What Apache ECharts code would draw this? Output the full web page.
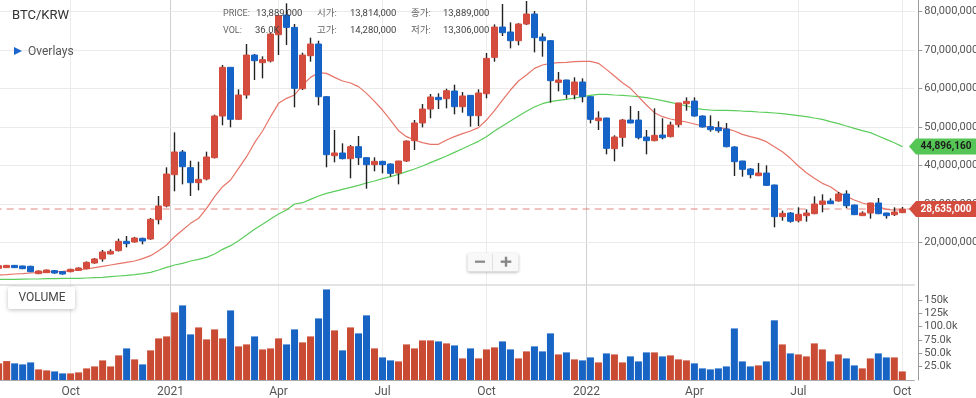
<!DOCTYPE html>
<html>
<head>
<meta charset="utf-8">
<script src="https://cdn.jsdelivr.net/npm/echarts@6/dist/echarts.min.js"></script>
<style>
html, body { margin: 0; padding: 0; background: #fff; }
#chart { width: 976px; height: 398px; }
</style>
</head>
<body>
<div id="chart"></div>
<script>
// weekly BTC/KRW, prices in million KRW, volume in thousands
var firstWeek = '2020-08-03';
var monthNames = ['Jan','Feb','Mar','Apr','May','Jun','Jul','Aug','Sep','Oct','Nov','Dec'];

var open = [13.22,13.39,13.99,13.82,13.74,11.83,12.09,12.61,12.35,12.35,12.70,13.13,14.60,15.65,16.95,17.81,20.24,20.07,21.02,20.85,
  25.88,29.43,37.59,43.49,39.41,35.51,36.46,42.01,52.85,65.52,51.99,58.32,68.72,66.73,67.16,74.01,79.13,75.92,59.96,68.55,
  71.59,57.88,42.53,43.23,41.75,44.87,42.01,40.19,41.06,40.36,38.02,41.14,46.44,51.04,54.67,57.71,57.36,59.36,55.28,58.23,
  52.94,58.66,68.12,76.01,74.71,72.45,76.79,79.39,73.41,72.45,61.61,62.22,58.40,61.70,57.88,51.64,52.33,44.35,47.30,51.81,
  51.81,47.39,46.44,47.91,47.48,50.60,56.06,56.75,52.85,50.08,49.82,49.47,44.79,41.14,39.06,37.33,38.02,34.90,26.66,27.61,
  25.62,26.92,27.44,29.87,30.74,30.74,32.56,29.70,26.92,27.61,30.22,27.61,27.18,27.70];
var close = [13.91,13.99,13.39,13.13,12.35,12.52,12.78,12.00,11.74,12.96,13.30,14.78,15.65,17.47,17.64,20.24,19.63,21.11,20.33,25.97,
  29.43,37.76,43.49,39.67,35.51,36.37,42.19,52.85,65.52,51.99,58.32,68.72,67.25,67.51,74.19,78.96,75.92,60.05,68.72,71.59,
  57.88,42.79,43.23,41.75,44.87,42.01,40.19,41.06,40.19,37.93,41.14,46.35,51.04,54.67,57.80,57.10,59.44,55.28,58.06,52.94,
  58.84,67.86,76.01,74.54,72.45,76.79,79.39,73.24,72.45,62.05,62.22,58.49,61.70,57.88,51.99,52.33,44.44,47.39,51.81,51.04,
  47.22,46.44,47.82,47.22,50.51,56.24,56.67,52.85,49.99,49.30,49.04,44.87,40.97,38.98,37.59,38.02,34.81,26.66,27.53,25.45,
  27.27,27.61,29.96,30.74,30.04,32.56,29.52,27.18,27.61,30.22,27.44,26.92,27.87,28.635];
var low = [13.10,13.30,13.30,13.00,12.20,11.70,12.00,11.80,11.60,12.20,12.60,13.00,14.40,14.95,16.80,17.60,18.68,19.90,19.46,20.60,
  24.67,29.09,33.25,35.07,32.04,33.51,36.11,41.80,50.43,49.90,51.80,57.36,62.22,62.65,66.80,68.72,71.32,55.11,59.62,66.99,
  55.63,39.50,40.80,41.58,36.63,40.10,33.94,38.45,37.93,37.07,35.07,40.90,44.01,49.90,52.25,54.67,54.85,53.28,53.72,50.08,
  50.25,57.45,66.99,73.67,70.46,71.24,76.53,69.42,68.29,56.32,59.27,57.36,57.19,56.41,50.94,49.21,42.88,41.06,44.87,50.94,
  46.78,42.88,46.26,46.78,47.30,49.90,54.24,52.68,49.82,48.78,48.52,44.70,37.24,37.07,36.63,37.20,34.70,23.88,25.62,25.10,
  25.18,25.36,27.30,27.79,30.00,30.56,28.83,27.10,26.83,26.14,27.30,26.14,26.83,27.60];
var high = [14.00,14.10,14.10,13.90,13.90,12.70,12.90,12.80,12.50,13.10,13.50,15.00,15.90,17.99,18.16,20.94,21.63,21.40,21.20,26.31,
  32.04,39.50,48.60,44.01,41.23,40.97,43.57,53.20,66.12,65.60,59.79,71.59,69.00,68.38,74.50,79.10,82.17,76.79,69.33,73.24,
  72.45,58.00,49.21,45.74,45.31,47.65,42.10,42.10,41.20,40.54,41.20,46.50,51.81,55.98,58.58,58.75,59.96,61.01,59.10,58.30,
  59.79,69.25,76.70,81.99,77.22,77.00,82.78,80.17,74.36,72.60,64.30,62.30,62.91,62.65,58.00,54.07,52.40,47.82,52.07,55.45,
  54.15,49.21,54.85,52.25,51.38,56.30,57.71,57.71,53.02,53.02,51.47,51.04,45.00,41.20,39.32,40.62,40.02,35.00,28.22,27.87,
  29.09,28.57,31.95,32.47,31.43,33.08,33.51,29.80,28.05,30.30,31.52,27.70,29.09,29.17];
var volume = [31.2,35.5,31.2,29.3,33.0,19.9,18.0,16.1,12.4,12.4,14.3,21.8,25.5,36.8,25.5,46.2,59.3,38.7,29.3,55.6,
  78.1,81.8,126.9,140.0,85.6,98.7,76.2,95.0,78.1,130.6,63.1,66.8,81.8,57.4,59.3,78.1,66.8,95.0,70.6,81.8,
  115.6,170.0,93.1,55.6,98.7,87.5,121.3,59.3,42.4,36.8,34.9,66.8,59.3,74.3,74.3,72.4,68.7,64.9,40.5,59.3,
  40.5,57.4,61.2,72.4,57.4,40.5,53.7,63.1,53.7,87.5,48.0,51.8,38.7,36.8,42.4,33.0,49.9,48.0,33.0,44.3,
  34.9,51.8,51.8,44.3,46.2,38.7,36.8,31.2,21.8,19.9,21.8,25.5,96.8,34.9,25.5,27.4,34.9,112.0,66.8,49.9,
  48.0,44.3,68.7,57.4,34.9,48.0,40.5,27.4,21.8,40.5,49.9,42.4,42.4,16.1];
var maShort = [11.48,11.57,11.74,11.83,12.00,12.17,12.26,12.35,12.43,12.61,12.78,13.04,13.39,13.74,14.08,14.43,14.78,15.12,15.73,16.51,
  17.81,19.29,21.45,23.20,24.92,26.23,28.83,31.86,34.46,36.20,39.23,42.27,45.91,48.95,52.68,56.15,57.45,58.32,60.92,62.91,
  64.13,63.95,62.91,61.96,61.44,60.49,58.75,56.67,54.41,51.81,49.04,47.48,46.61,45.91,45.48,45.48,46.61,47.48,48.26,48.95,
  49.82,51.81,54.24,57.01,59.62,61.96,63.52,65.25,66.12,66.56,66.73,66.82,66.99,67.08,67.08,66.56,64.99,63.26,61.53,60.05,
  57.88,55.71,53.72,52.68,52.07,51.64,51.29,50.77,50.25,49.90,49.82,49.56,48.95,48.08,47.48,46.96,46.18,44.87,43.57,41.84,
  39.84,38.11,36.63,35.33,34.46,33.00,31.95,31.00,30.22,29.70,29.26,28.57,28.40,28.40];
var maLong = [10.35,10.35,10.35,10.40,10.44,10.44,10.53,10.53,10.61,10.61,10.61,10.70,10.79,10.87,11.05,11.22,11.39,11.57,11.83,12.17,
  12.78,13.47,14.08,14.52,15.12,15.56,16.08,16.95,18.16,19.12,20.42,21.89,23.37,24.67,26.05,27.35,28.40,29.96,30.30,31.17,
  32.04,32.73,33.25,33.77,34.29,34.81,35.42,35.94,36.55,37.07,37.67,38.37,39.06,39.84,40.71,41.58,42.44,43.40,44.35,45.31,
  46.26,47.48,48.95,50.25,51.55,52.85,54.07,55.19,56.06,56.58,56.93,57.19,57.54,57.88,58.23,58.49,58.49,58.32,58.23,58.06,
  57.88,57.62,57.28,56.84,56.41,55.98,55.45,54.93,54.59,54.41,54.33,54.33,54.24,54.15,54.07,53.89,53.80,53.63,53.46,53.20,
  52.94,52.68,52.33,51.99,51.38,50.86,50.25,49.65,49.04,48.52,47.65,46.78,45.91,44.89616];

var priceTicks = [20, 30, 40, 50, 60, 70, 80];
var volTicks = [25, 50, 75, 100, 125, 150];
var volTickLabels = ['25.0k', '50.0k', '75.0k', '100.0k', '125k', '150k'];
var infoRows = [
  ['PRICE:', '13,889,000', '시가:', '13,814,000', '종가:', '13,889,000'],
  ['VOL:', '36.0K', '고가:', '14,280,000', '저가:', '13,306,000']
];

function fmt(n) { return String(n).replace(/\B(?=(\d{3})+(?!\d))/g, ','); }

// weekly categories (one spare week on the right)
var weeks = [];
var t0 = Date.parse(firstWeek + 'T00:00:00Z');
for (var i = 0; i <= open.length; i++) {
  weeks.push(new Date(t0 + i * 7 * 864e5).toISOString().slice(0, 10));
}

// half-week slots for month / year lines and labels
var slots = [], slotText = {}, monthSlot = {}, yearSlot = {};
for (var s = 0; s < weeks.length * 2 + 1; s++) slots.push('s' + s);
for (var i = 1; i < weeks.length; i++) {
  var m = +weeks[i].slice(5, 7) - 1, pm = +weeks[i - 1].slice(5, 7) - 1;
  if (m !== pm && m % 3 === 0) {
    if (m === 0) { yearSlot[2 * i] = true; slotText[2 * i] = weeks[i].slice(0, 4); }
    else { monthSlot[2 * i + 1] = true; slotText[2 * i + 1] = monthNames[m]; }
  }
}

var last = open.length - 1;
var upColor = '#d34c3e', downColor = '#1663c7';
var wickData = open.map(function (o, i) { return [o, close[i], low[i], high[i]]; });
var bodyData = open.map(function (o, i) { var c = close[i]; return [o, c, Math.min(o, c), Math.max(o, c)]; });

function slotAxis(grid, kind, withLabels) {
  return {
    type: 'category', gridIndex: grid, position: 'bottom', data: slots, boundaryGap: false,
    axisLine: withLabels ? { show: true, lineStyle: { color: '#aaa', width: 1 } } : { show: false },
    axisTick: { show: false },
    axisLabel: withLabels ? {
      show: true, color: '#555', fontSize: 12, margin: 6,
      interval: function (idx) { return slotText[idx] !== undefined; },
      formatter: function (v, idx) { return slotText[idx] || ''; }
    } : { show: false },
    splitLine: {
      show: true,
      interval: function (idx) { return kind === 'year' ? !!yearSlot[idx] : !!monthSlot[idx]; },
      lineStyle: { color: kind === 'year' ? '#cfcfcf' : '#ececec', width: 1 }
    }
  };
}

var chart = echarts.init(document.getElementById('chart'));

var option = {
  animation: false,
  textStyle: { fontFamily: 'Roboto' },
  grid: [
    { left: -5.33, right: 61.7, top: 0, height: 285, containLabel: false, outerBoundsMode: 'none' },
    { left: -5.33, right: 61.7, top: 285, bottom: 18, containLabel: false, outerBoundsMode: 'none' }
  ],
  xAxis: [
    {
      type: 'category', gridIndex: 0, position: 'bottom', data: weeks, boundaryGap: true,
      axisLine: { show: true, lineStyle: { color: '#dadada', width: 1.5 } },
      axisTick: { show: false }, axisLabel: { show: false }, splitLine: { show: false }
    },
    slotAxis(0, 'month', false),
    slotAxis(0, 'year', false),
    slotAxis(1, 'month', true),
    {
      type: 'category', gridIndex: 1, position: 'bottom', data: weeks, boundaryGap: true,
      axisLine: { show: false }, axisTick: { show: false }, axisLabel: { show: false }, splitLine: { show: false }
    },
    slotAxis(1, 'year', false)
  ],
  yAxis: [
    {
      type: 'value', gridIndex: 0, position: 'right', offset: 4, min: 8.88, max: 83.04, splitNumber: 7,
      axisLine: { show: true, lineStyle: { color: '#9a9a9a' } },
      axisTick: { show: true, length: 4, customValues: priceTicks, lineStyle: { color: '#9a9a9a' } },
      axisLabel: {
        customValues: priceTicks, margin: 6, color: '#555', fontSize: 11,
        formatter: function (v) {
          var r = Math.round(v);
          if (Math.abs(v - r) > 1e-6 || priceTicks.indexOf(r) < 0) return '';
          return fmt(r * 1000000);
        }
      },
      splitLine: { show: false }
    },
    {
      type: 'value', gridIndex: 1, position: 'right', offset: 4, min: 0, max: 178.3, interval: 25,
      axisLine: { show: true, lineStyle: { color: '#9a9a9a' } },
      axisTick: { show: true, length: 4, customValues: volTicks, lineStyle: { color: '#9a9a9a' } },
      axisLabel: {
        customValues: volTicks, margin: 6, color: '#555', fontSize: 11,
        formatter: function (v) {
          var k = volTicks.indexOf(Math.round(v));
          return (k < 0 || Math.abs(v - Math.round(v)) > 1e-6) ? '' : volTickLabels[k];
        }
      },
      splitLine: { show: false }
    }
  ],
  series: [
    {
      name: 'MA long', type: 'line', xAxisIndex: 0, yAxisIndex: 0, z: 2,
      data: maLong, showSymbol: false, symbol: 'none',
      lineStyle: { color: '#5ccd5c', width: 1.2 },
      markLine: {
        silent: true, z: 1, symbol: ['none', 'none'], label: { show: false },
        lineStyle: { color: '#ebebeb', width: 1, type: 'solid' },
        emphasis: { disabled: true },
        data: priceTicks.map(function (v) { return { yAxis: v }; })
      },
      markPoint: {
        silent: true, symbol: 'path://M0,8L7,0L68,0L68,16L7,16Z', symbolSize: [68, 16],
        symbolOffset: [40.7, 0], symbolKeepAspect: false,
        itemStyle: { color: '#55c655' },
        label: {
          show: true, position: 'inside', color: '#1d1d1d', fontSize: 10, fontWeight: 'bold', offset: [3, 0],
          formatter: function (p) { return fmt(Math.round(p.value * 1000000)); }
        },
        data: [{ coord: [weeks[last], maLong[last]], value: maLong[last] }]
      }
    },
    {
      name: 'MA short', type: 'line', xAxisIndex: 0, yAxisIndex: 0, z: 2,
      data: maShort, showSymbol: false, symbol: 'none',
      lineStyle: { color: '#e77468', width: 1.2 },
      markLine: {
        silent: true, z: 1, symbol: ['none', 'none'], label: { show: false },
        lineStyle: { color: 'rgba(222,112,100,0.55)', width: 1.6, type: [7, 5] },
        emphasis: { disabled: true },
        data: [{ yAxis: close[last] }]
      }
    },
    {
      name: 'wick', type: 'candlestick', xAxisIndex: 0, yAxisIndex: 0, z: 3,
      data: wickData, barWidth: 1,
      itemStyle: { color: '#222', color0: '#222', borderColor: '#222', borderColor0: '#222', borderColorDoji: '#222', borderWidth: 1.4 }
    },
    {
      name: 'BTC/KRW', type: 'candlestick', xAxisIndex: 0, yAxisIndex: 0, z: 4,
      data: bodyData, barWidth: 6,
      itemStyle: { color: upColor, color0: downColor, borderColor: upColor, borderColor0: downColor, borderColorDoji: upColor, borderWidth: 1 },
      markPoint: {
        silent: true, symbol: 'path://M0,8L7,0L68,0L68,16L7,16Z', symbolSize: [68, 16],
        symbolOffset: [40.7, 0], symbolKeepAspect: false,
        itemStyle: { color: upColor },
        label: {
          show: true, position: 'inside', color: '#fff', fontSize: 10, fontWeight: 'bold', offset: [3, 0],
          formatter: function (p) { return fmt(Math.round(p.value * 1000000)); }
        },
        data: [{ coord: [weeks[last], close[last]], value: close[last] }]
      }
    },
    {
      name: 'VOLUME', type: 'bar', xAxisIndex: 4, yAxisIndex: 1,
      data: volume, barWidth: 7,
      itemStyle: {
        color: function (p) { return close[p.dataIndex] >= open[p.dataIndex] ? '#c94b34' : '#1764c4'; }
      }
    }
  ],
  graphic: [
    { type: 'text', x: 12, y: 16, z: 100, style: { text: 'BTC/KRW', font: '13px Roboto', fill: '#333', verticalAlign: 'middle' } },
    { type: 'polygon', z: 100, shape: { points: [[14, 47], [22, 51], [14, 55]] }, style: { fill: '#1a66cc' } },
    { type: 'text', x: 28, y: 51.5, z: 100, style: { text: 'Overlays', font: '12px Roboto', fill: '#555', verticalAlign: 'middle' } },
    { type: 'rect', z: 100, shape: { x: 8, y: 287, width: 67, height: 22, r: 2 },
      style: { fill: '#fff', shadowBlur: 4, shadowColor: 'rgba(0,0,0,0.25)', shadowOffsetY: 1 } },
    { type: 'text', x: 18.5, y: 298, z: 101, style: { text: 'VOLUME', font: '12px Roboto', fill: '#444', verticalAlign: 'middle' } },
    { type: 'rect', z: 100, shape: { x: 467.5, y: 253, width: 51, height: 18.5, r: 2 },
      style: { fill: '#f8f8f8', shadowBlur: 3, shadowColor: 'rgba(0,0,0,0.3)', shadowOffsetY: 1 } },
    { type: 'line', z: 101, shape: { x1: 492.5, y1: 254, x2: 492.5, y2: 270.5 }, style: { stroke: '#e0e0e0', lineWidth: 1 } },
    { type: 'line', z: 101, shape: { x1: 475, y1: 261.7, x2: 485, y2: 261.7 }, style: { stroke: '#888', lineWidth: 2.2 } },
    { type: 'line', z: 101, shape: { x1: 500.7, y1: 261.7, x2: 511.3, y2: 261.7 }, style: { stroke: '#888', lineWidth: 2.4 } },
    { type: 'line', z: 101, shape: { x1: 506, y1: 256.7, x2: 506, y2: 266.7 }, style: { stroke: '#888', lineWidth: 2.4 } }
  ]
};

// crosshair info text
var infoX = [223, 256, 317, 350, 411, 443];
var infoY = [14, 31];
infoRows.forEach(function (row, r) {
  row.forEach(function (txt, c) {
    var isLabel = c % 2 === 0;
    option.graphic.push({
      type: 'text', x: (r === 1 && c === 1) ? 255 : infoX[c], y: infoY[r], z: 100,
      style: {
        text: txt, verticalAlign: 'middle',
        font: (isLabel && c === 0 ? '9px' : '9.5px') + " Roboto, 'Noto Sans CJK KR', sans-serif",
        fill: isLabel ? '#666' : '#444'
      }
    });
  });
});

chart.setOption(option);
</script>
</body>
</html>
